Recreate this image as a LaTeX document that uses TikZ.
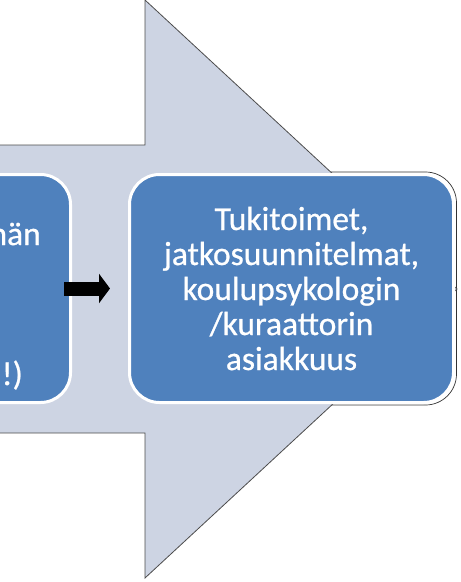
\documentclass[tikz,border=0pt]{standalone}
\usepackage{fontspec}
\setmainfont{Carlito}
\newfontfamily\boxfont[FakeBold=0.7]{Carlito}
\usetikzlibrary{shapes,arrows,arrows.meta}
\definecolor{boxblue}{HTML}{4F81BD}
\definecolor{flowfill}{HTML}{CDD4E3}
\tikzstyle{block} = [rectangle, draw=white, line width=3pt, fill=boxblue, text=white, align=center, rounded corners=30pt, minimum width=324pt, minimum height=228pt, font=\boxfont\fontsize{33.5}{35}\selectfont]
\tikzstyle{frag} = [text=white, inner sep=0pt, font=\boxfont\fontsize{33.5}{35}\selectfont]
\tikzstyle{bigarrow} = [line width=14pt, -{Triangle[length=11pt,width=29pt]}]

\begin{document}
\begin{tikzpicture}[x=1pt,y=-1pt]
   \useasboundingbox (0,0) rectangle (461,582);
   \clip (0,0) rectangle (461,582);
   % shadow line round the right box
   \draw[black!80, line width=0.7pt, rounded corners=31pt] (127,172) rectangle (456.5,405);
   % big background arrow
   \draw[black!70, fill=flowfill, line width=0.8pt]
      (-10,145) -- (145,145) -- (145,0) -- (457,289) -- (145,578) -- (145,433) -- (-10,433) -- cycle;
   \node[block] (a) at (-91.5,288.5) {};
   \node[block] (b) at (291.5,288.5) {Tukitoimet,\\jatkosuunnitelmat,\\koulupsykologin\\/kuraattorin\\asiakkuus};
   \node[frag, anchor=base east] (a1) at (41,245) {hän};
   \node[frag, anchor=base east] (a2) at (23,385) {!)};
   \draw[bigarrow] ([xshift=-8pt]a.east) -- ([xshift=-18pt]b.west);
\end{tikzpicture}
\end{document}
